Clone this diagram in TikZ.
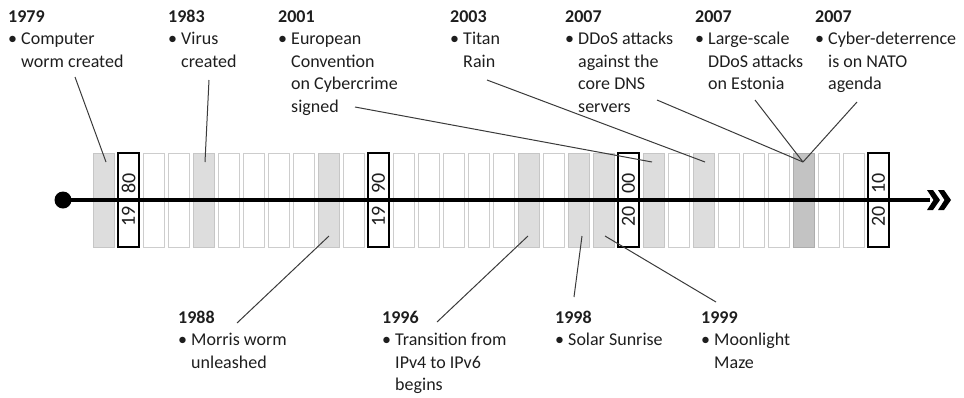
\documentclass[tikz,border=0pt]{standalone}
\usepackage{fontspec}
\setmainfont{Carlito}
\usetikzlibrary{calc}
\definecolor{lg}{HTML}{DDDDDD}
\definecolor{lgb}{HTML}{C6C6C6}
\definecolor{dg}{HTML}{C3C3C3}
\definecolor{dgb}{HTML}{ADADAD}
\definecolor{wb}{HTML}{CDCDCD}
\definecolor{conncol}{HTML}{3A3A3A}
\definecolor{txt}{HTML}{1E1E1E}
\newcommand\mybul{\textbullet\ }
\newcommand\myind{\phantom{\textbullet\ }}
\newcommand\evt[2]{\begin{tabular}[t]{@{}l@{}}\textbf{#1}\\#2\end{tabular}}
\begin{document}
\begin{tikzpicture}[x=1pt,y=-1pt,
  cellw/.style={draw=wb,fill=white,line width=1pt,minimum width=21pt,minimum height=94pt,inner sep=0pt,outer sep=0pt},
  cellg/.style={cellw,fill=lg,draw=lgb},
  celld/.style={cellw,fill=dg,draw=dgb},
  dec/.style={cellw,draw=black,line width=2pt},
  dectext/.style={rotate=90,inner sep=0pt,text=txt,font=\fontsize{20}{24}\selectfont},
  lbl/.style={inner sep=0pt,anchor=base west,text=txt,font=\fontsize{18}{22.5}\selectfont},
  conn/.style={draw=conncol,line width=1pt},
  tl/.style={line width=3.2pt,draw=black}]
\useasboundingbox (0,0) rectangle (964,397);
% cells
\foreach \i/\s in {0/cellg,1/dec,2/cellw,3/cellw,4/cellg,5/cellw,6/cellw,7/cellw,8/cellw,9/cellg,
  10/cellw,11/dec,12/cellw,13/cellw,14/cellw,15/cellw,16/cellw,17/cellg,18/cellw,19/cellg,
  20/cellg,21/dec,22/cellg,23/cellw,24/cellg,25/cellw,26/cellw,27/cellw,28/celld,29/cellw,
  30/cellw,31/dec}{
  \node[\s] (c\i) at ({103.5+25*\i},200) {};
}
% timeline
\node[circle,fill=black,inner sep=0pt,minimum size=17pt] (dot) at (63,200) {};
\coordinate (tlend) at (930,200);
\draw[tl] (dot.center) -- (tlend);
\fill (927,190) -- (933,190) -- (940,200) -- (933,210) -- (927,210) -- (933.5,200) -- cycle;
\fill (938,190) -- (944,190) -- (951,200) -- (944,210) -- (938,210) -- (944.5,200) -- cycle;
% decade texts
\foreach \c/\a/\b in {1/19/80,11/19/90,21/20/00,31/20/10}{
  \node[dectext,anchor=east] (da\c) at ($(c\c.center)+(0,6)$) {\a};
  \node[dectext,anchor=west] (db\c) at ($(c\c.center)+(0,-6)$) {\b};
}
% top labels
\node[lbl] (t1979) at (8,22) {\evt{1979}{\mybul Computer\\\myind worm created}};
\node[lbl] (t1983) at (168,22) {\evt{1983}{\mybul Virus\\\myind created}};
\node[lbl] (t2001) at (278,22) {\evt{2001}{\mybul European\\\myind Convention\\\myind on Cybercrime\\\myind signed}};
\node[lbl] (t2003) at (450,22) {\evt{2003}{\mybul Titan\\\myind Rain}};
\node[lbl] (t2007a) at (565,22) {\evt{2007}{\mybul DDoS attacks\\\myind against the\\\myind core DNS\\\myind servers}};
\node[lbl] (t2007b) at (695,22) {\evt{2007}{\mybul Large-scale\\\myind DDoS attacks\\\myind on Estonia}};
\node[lbl] (t2007c) at (815,22) {\evt{2007}{\mybul Cyber-deterrence\\\myind is on NATO\\\myind agenda}};
% bottom labels
\node[lbl] (b1988) at (178,323) {\evt{1988}{\mybul Morris worm\\\myind unleashed}};
\node[lbl] (b1996) at (382,323) {\evt{1996}{\mybul Transition from\\\myind IPv4 to IPv6\\\myind begins}};
\node[lbl] (b1998) at (555,323) {\evt{1998}{\mybul Solar Sunrise}};
\node[lbl] (b1999) at (701,323) {\evt{1999}{\mybul Moonlight\\\myind Maze}};
% connector start points
\coordinate (s1979) at (75,77);
\coordinate (s1983) at (209,80);
\coordinate (s2001) at (355,107);
\coordinate (s2003) at (487,80);
\coordinate (s2007a) at (657,100);
\coordinate (s2007b) at (755,100);
\coordinate (s2007c) at (857,102);
\coordinate (s1988) at (237,323);
\coordinate (s1996) at (437,322);
\coordinate (s1998) at (574,297);
\coordinate (s1999) at (716,302);
% connectors
\draw[conn] (s1979) -- ($(c0.north)+(2.5,9)$);
\draw[conn] (s1983) -- ($(c4.north)+(1.5,9)$);
\draw[conn] (s2001) -- ($(c22.north)+(-1.5,9)$);
\draw[conn] (s2003) -- ($(c24.north)+(1.5,9)$);
\draw[conn] (s2007a) -- ($(c28.north)+(-0.5,9)$);
\draw[conn] (s2007b) -- ($(c28.north)+(-0.5,9)$);
\draw[conn] (s2007c) -- ($(c28.north)+(-0.5,9)$);
\draw[conn] (s1988) -- ($(c9.south)+(0.5,-11)$);
\draw[conn] (s1996) -- ($(c17.south)+(-0.5,-11)$);
\draw[conn] (s1998) -- ($(c19.south)+(3.5,-11)$);
\draw[conn] (s1999) -- ($(c20.south)+(1.5,-11)$);
\end{tikzpicture}
\end{document}
